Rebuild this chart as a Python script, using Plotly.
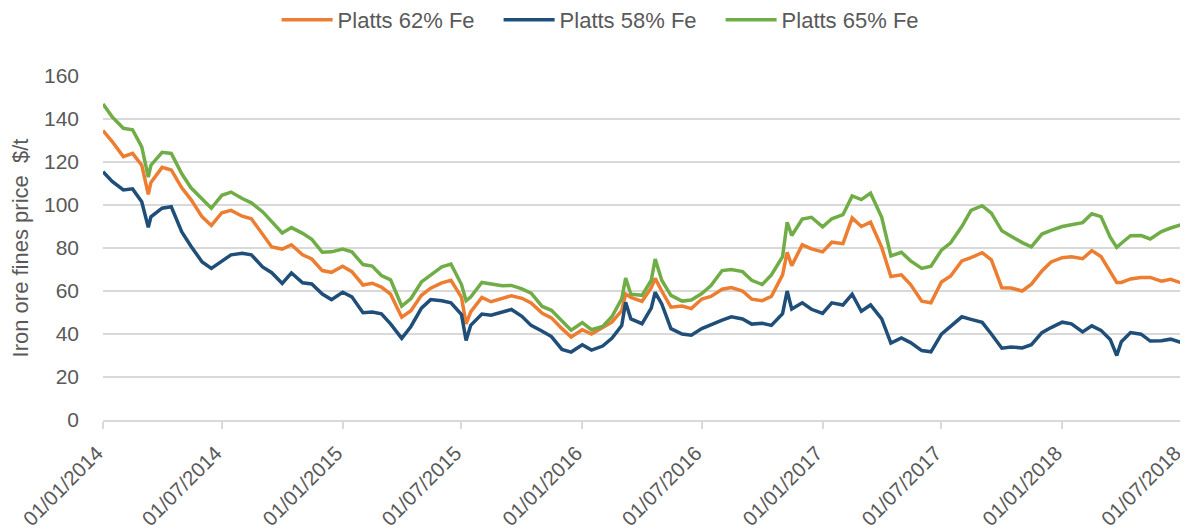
import plotly.graph_objects as go

# sample dates (1st / 15th of month plus a few spike days)
dates = [
    "2014-01-01", "2014-01-15", "2014-02-01", "2014-02-15", "2014-03-01", "2014-03-11", "2014-03-15",
    "2014-04-01", "2014-04-15", "2014-05-01", "2014-05-15", "2014-06-01", "2014-06-15",
    "2014-07-01", "2014-07-15", "2014-08-01", "2014-08-15", "2014-09-01", "2014-09-15",
    "2014-10-01", "2014-10-15", "2014-11-01", "2014-11-15", "2014-12-01", "2014-12-15",
    "2015-01-01", "2015-01-15", "2015-02-01", "2015-02-15", "2015-03-01", "2015-03-15",
    "2015-04-01", "2015-04-15", "2015-05-01", "2015-05-15", "2015-06-01", "2015-06-15",
    "2015-07-01", "2015-07-08", "2015-07-15", "2015-08-01", "2015-08-15", "2015-09-01", "2015-09-15",
    "2015-10-01", "2015-10-15", "2015-11-01", "2015-11-15", "2015-12-01", "2015-12-15",
    "2016-01-01", "2016-01-15", "2016-02-01", "2016-02-15", "2016-03-01", "2016-03-07", "2016-03-15",
    "2016-04-01", "2016-04-15", "2016-04-21", "2016-05-01", "2016-05-15", "2016-06-01", "2016-06-15",
    "2016-07-01", "2016-07-15", "2016-08-01", "2016-08-15", "2016-09-01", "2016-09-15",
    "2016-10-01", "2016-10-15", "2016-11-01", "2016-11-08", "2016-11-15", "2016-12-01", "2016-12-15",
    "2017-01-01", "2017-01-15", "2017-02-01", "2017-02-15", "2017-03-01", "2017-03-15",
    "2017-04-01", "2017-04-15", "2017-05-01", "2017-05-15", "2017-06-01", "2017-06-15",
    "2017-07-01", "2017-07-15", "2017-08-01", "2017-08-15", "2017-09-01", "2017-09-15",
    "2017-10-01", "2017-10-15", "2017-11-01", "2017-11-15", "2017-12-01", "2017-12-15",
    "2018-01-01", "2018-01-15", "2018-02-01", "2018-02-15", "2018-03-01", "2018-03-15", "2018-03-25",
    "2018-04-01", "2018-04-15", "2018-05-01", "2018-05-15", "2018-06-01", "2018-06-15",
    "2018-07-01", "2018-07-09",
]

fe62 = [
    134.6, 129.5, 122.5, 124.0, 118.5, 105.0, 110.5,
    117.5, 116.3, 108.0, 102.5, 94.5, 90.5,
    96.4, 97.5, 94.8, 93.6, 86.5, 80.5,
    79.5, 81.5, 76.8, 74.9, 69.5, 68.7,
    71.5, 69.0, 62.8, 63.6, 61.8, 58.5,
    47.8, 50.8, 58.0, 61.3, 63.8, 65.0,
    57.0, 44.7, 50.3, 57.0, 55.0, 56.5, 57.8,
    56.6, 54.4, 49.6, 47.5, 42.5, 38.6,
    42.0, 40.0, 43.0, 45.5, 50.9, 58.6, 57.0,
    55.2, 61.5, 65.9, 60.0, 52.5, 53.0, 51.8,
    56.3, 57.5, 60.8, 61.6, 60.0, 56.2,
    55.5, 57.5, 67.5, 78.0, 71.8, 81.5, 79.6,
    78.2, 82.7, 82.0, 94.0, 90.0, 92.0,
    80.3, 66.7, 67.5, 63.0, 55.3, 54.5,
    64.2, 67.0, 74.0, 75.5, 77.8, 74.5,
    61.5, 61.4, 60.0, 63.2, 69.3, 73.5,
    75.5, 75.9, 75.0, 78.8, 76.0, 69.0, 64.0,
    64.0, 65.6, 66.3, 66.3, 64.6, 65.4,
    63.8, 63.2,
]

fe58 = [
    115.5, 111.0, 107.0, 107.5, 101.5, 89.6, 94.5,
    98.5, 99.2, 87.5, 80.8, 73.5, 70.5,
    74.0, 76.8, 77.6, 76.8, 71.2, 68.5,
    63.5, 68.4, 63.8, 63.3, 58.6, 56.0,
    59.4, 57.3, 49.9, 50.2, 49.4, 44.7,
    38.0, 43.5, 52.0, 56.0, 55.5, 54.5,
    49.0, 37.0, 44.0, 49.3, 48.7, 50.2, 51.4,
    48.2, 44.0, 41.3, 38.8, 32.8, 31.6,
    35.0, 32.5, 34.4, 38.0, 43.9, 54.7, 47.0,
    44.8, 52.0, 59.4, 54.0, 42.5, 40.0, 39.4,
    42.5, 44.5, 46.5, 48.0, 47.0, 44.6,
    45.0, 44.0, 49.5, 60.0, 51.6, 54.5, 51.5,
    49.6, 54.5, 53.5, 58.5, 50.6, 53.5,
    47.0, 35.8, 38.2, 36.0, 32.3, 31.7,
    39.9, 43.5, 48.0, 46.8, 45.4, 40.0,
    33.4, 34.0, 33.5, 35.0, 40.6, 43.0,
    45.5, 44.7, 41.0, 43.8, 41.7, 37.5, 30.0,
    36.4, 40.7, 39.9, 36.7, 36.9, 37.6,
    36.1, 35.2,
]

fe65 = [
    147.0, 141.0, 135.7, 135.0, 127.0, 113.0, 118.5,
    124.5, 124.0, 114.5, 108.0, 102.5, 98.5,
    104.5, 106.0, 103.0, 101.0, 96.9, 92.5,
    87.0, 89.5, 86.8, 84.0, 78.0, 78.2,
    79.5, 78.2, 72.3, 71.6, 67.2, 65.2,
    53.0, 56.5, 64.2, 67.4, 71.2, 72.5,
    63.0, 55.5, 57.2, 64.0, 63.4, 62.4, 62.6,
    61.0, 59.0, 52.8, 51.0, 46.0, 41.8,
    45.3, 42.0, 43.5, 48.0, 56.3, 66.0, 58.5,
    58.0, 65.0, 74.9, 65.0, 58.0, 55.3, 55.8,
    58.8, 62.5, 69.5, 70.0, 69.0, 65.0,
    63.0, 67.5, 76.0, 92.0, 85.8, 93.5, 94.3,
    89.8, 93.6, 95.5, 104.2, 102.5, 105.5,
    94.3, 76.3, 78.0, 74.0, 70.5, 71.5,
    79.0, 82.4, 90.0, 97.5, 99.7, 96.2,
    88.0, 85.5, 82.5, 80.5, 86.5, 88.2,
    90.0, 90.8, 91.8, 95.9, 94.6, 85.0, 80.3,
    82.2, 85.7, 85.8, 84.2, 87.6, 89.3,
    90.8, 89.7,
]

tick_dates = ["2014-01-01", "2014-07-01", "2015-01-01", "2015-07-01", "2016-01-01",
              "2016-07-01", "2017-01-01", "2017-07-01", "2018-01-01", "2018-07-01"]
tick_text = ["01/01/2014", "01/07/2014", "01/01/2015", "01/07/2015", "01/01/2016",
             "01/07/2016", "01/01/2017", "01/07/2017", "01/01/2018", "01/07/2018"]

grey = "#595959"
grid = "#D9D9D9"

fig = go.Figure()
fig.add_trace(go.Scatter(x=dates, y=fe62, name="Platts 62% Fe", mode="lines",
                         line=dict(color="#ED7D31", width=3.5)))
fig.add_trace(go.Scatter(x=dates, y=fe58, name="Platts 58% Fe", mode="lines",
                         line=dict(color="#1F4E79", width=3.5)))
fig.add_trace(go.Scatter(x=dates, y=fe65, name="Platts 65% Fe", mode="lines",
                         line=dict(color="#70AD47", width=3.5)))

# page body keeps its default 8px margin, so the figure is 8px smaller than the window
fig.update_layout(
    width=1180, height=521,
    margin=dict(l=95, r=0, t=68, b=109, autoexpand=False),
    plot_bgcolor="white", paper_bgcolor="white",
    font=dict(family="Liberation Sans, Arial, sans-serif", size=21, color=grey),
    legend=dict(orientation="h", x=0.16, xanchor="left", y=0.977, yanchor="middle",
                yref="container", font=dict(size=22, color=grey), itemwidth=51,
                entrywidth=156, entrywidthmode="pixels"),
    showlegend=True,
)
fig.update_xaxes(
    type="date", range=["2014-01-01", "2018-07-11 12:00"], automargin=False,
    tickvals=tick_dates, ticktext=tick_text, tickangle=-45, ticklabeloverflow="allow",
    showgrid=False, showline=True, linecolor=grid, linewidth=2,
    ticks="outside", tickcolor=grid, tickwidth=2, ticklen=7,
    ticklabelstandoff=4, ticklabelshift=-6,
    tickfont=dict(size=20.5, color=grey),
)
fig.update_yaxes(
    range=[0, 160], dtick=20, showgrid=True, gridcolor=grid, gridwidth=2,
    zeroline=False, showline=False, ticks="", automargin=False, ticklabelstandoff=23,
    tickfont=dict(size=21, color=grey),
    title=dict(text="Iron ore fines price  $/t", font=dict(size=22, color=grey), standoff=10),
)

fig.write_html("out.html")
